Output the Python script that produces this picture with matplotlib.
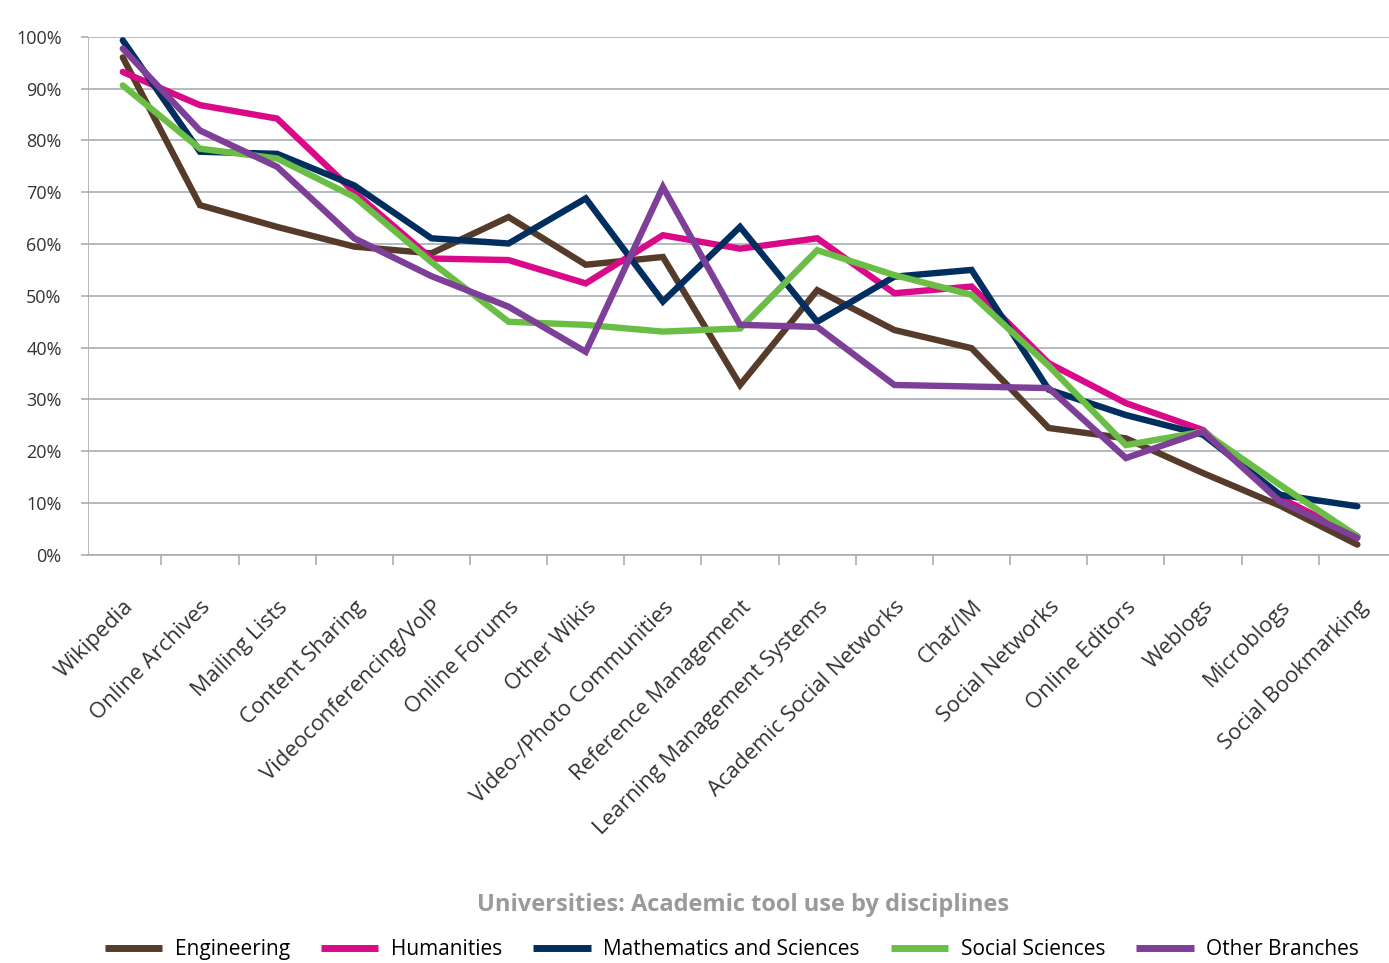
import numpy as np
import matplotlib
matplotlib.use("Agg")
import matplotlib.pyplot as plt
from matplotlib.ticker import FuncFormatter, FixedLocator

categorias = [
    "Wikipedia", "Online Archives", "Mailing Lists", "Content Sharing",
    "Videoconferencing/VoIP", "Online Forums", "Other Wikis",
    "Video-/Photo Communities", "Reference Management",
    "Learning Management Systems", "Academic Social Networks", "Chat/IM",
    "Social Networks", "Online Editors", "Weblogs", "Microblogs",
    "Social Bookmarking",
]

engineering = [96.0, 67.5, 63.3, 59.5, 58.2, 65.2, 56.0, 57.5, 32.8, 51.1,
               43.4, 39.9, 24.5, 22.5, 15.8, 9.5, 2.0]
humanities = [93.2, 86.8, 84.2, 70.0, 57.2, 56.9, 52.4, 61.7, 59.1, 61.1,
              50.5, 51.8, 37.0, 29.3, 24.1, 11.0, 3.6]
math_sci = [99.3, 77.8, 77.4, 71.3, 61.1, 60.1, 68.8, 48.9, 63.3, 45.0,
            53.7, 55.0, 31.9, 27.0, 23.2, 11.6, 9.4]
social_sci = [90.6, 78.4, 76.5, 69.1, 56.5, 45.0, 44.4, 43.1, 43.7, 58.8,
              54.0, 50.2, 36.5, 21.2, 23.8, 13.5, 3.6]
other = [97.7, 81.9, 74.9, 61.1, 53.8, 47.9, 39.2, 71.0, 44.4, 44.0,
         32.8, 32.5, 32.2, 18.7, 23.8, 10.3, 3.3]

series = [
    ("Engineering", engineering, "#573b2a"),
    ("Humanities", humanities, "#d9098a"),
    ("Mathematics and Sciences", math_sci, "#002f5f"),
    ("Social Sciences", social_sci, "#6bbe45"),
    ("Other Branches", other, "#7d3f98"),
]

fonte = "Open Sans"
cinza = "#a7aeb3"

fig = plt.figure(figsize=(13.89, 9.63), dpi=100)
ax = fig.add_axes([0.0634, 0.4237, 0.9366, 0.5382])

x = np.arange(len(categorias))
for nome, valores, cor in series:
    ax.plot(x, valores, color=cor, lw=4.6, label=nome,
            solid_capstyle="round", solid_joinstyle="miter")

ax.set_ylim(0, 100)
ax.set_xlim(-0.45, len(categorias) - 0.59)
ax.set_yticks(np.arange(0, 101, 10))
ax.yaxis.set_major_formatter(FuncFormatter(lambda v, p: f"{v:.0f}%"))
ax.grid(axis="y", color=cinza, lw=1.2)
ax.set_axisbelow(True)

for lado in ["top", "right", "left"]:
    ax.spines[lado].set_visible(False)
ax.spines["bottom"].set_color(cinza)
ax.spines["bottom"].set_linewidth(1.2)
ax.axvline(-0.45, color=cinza, lw=1.2, zorder=0)

ax.tick_params(axis="y", length=5, color=cinza, width=1.2, pad=14,
               labelsize=13, labelcolor="#333333")
ax.set_xticks(x)
ax.set_xticklabels(categorias, rotation=45, ha="right", va="top",
                   rotation_mode="anchor", fontsize=15.8, color="#333333",
                   family=fonte)
ax.tick_params(axis="x", which="major", length=0, pad=30)
ax.xaxis.set_minor_locator(FixedLocator(np.arange(0.5, len(categorias) - 1, 1)))
ax.tick_params(axis="x", which="minor", length=7, color=cinza, width=1.2)
for t in ax.get_yticklabels():
    t.set_family(fonte)

fig.text(0.535, 0.06, "Universities: Academic tool use by disciplines",
         ha="center", va="center", fontsize=17, fontweight="bold",
         color="#9a9a9a", family=fonte)

leg = fig.legend(loc="center", bbox_to_anchor=(0.527, 0.0135), ncol=5,
                 frameon=False, prop={"family": fonte, "size": 15},
                 handlelength=2.75, columnspacing=1.5, handletextpad=0.6,
                 borderaxespad=0, borderpad=0)
for linha in leg.get_lines():
    linha.set_solid_capstyle("butt")
    linha.set_linewidth(5)

fig.savefig("out.png", dpi=100)
plt.close(fig)
